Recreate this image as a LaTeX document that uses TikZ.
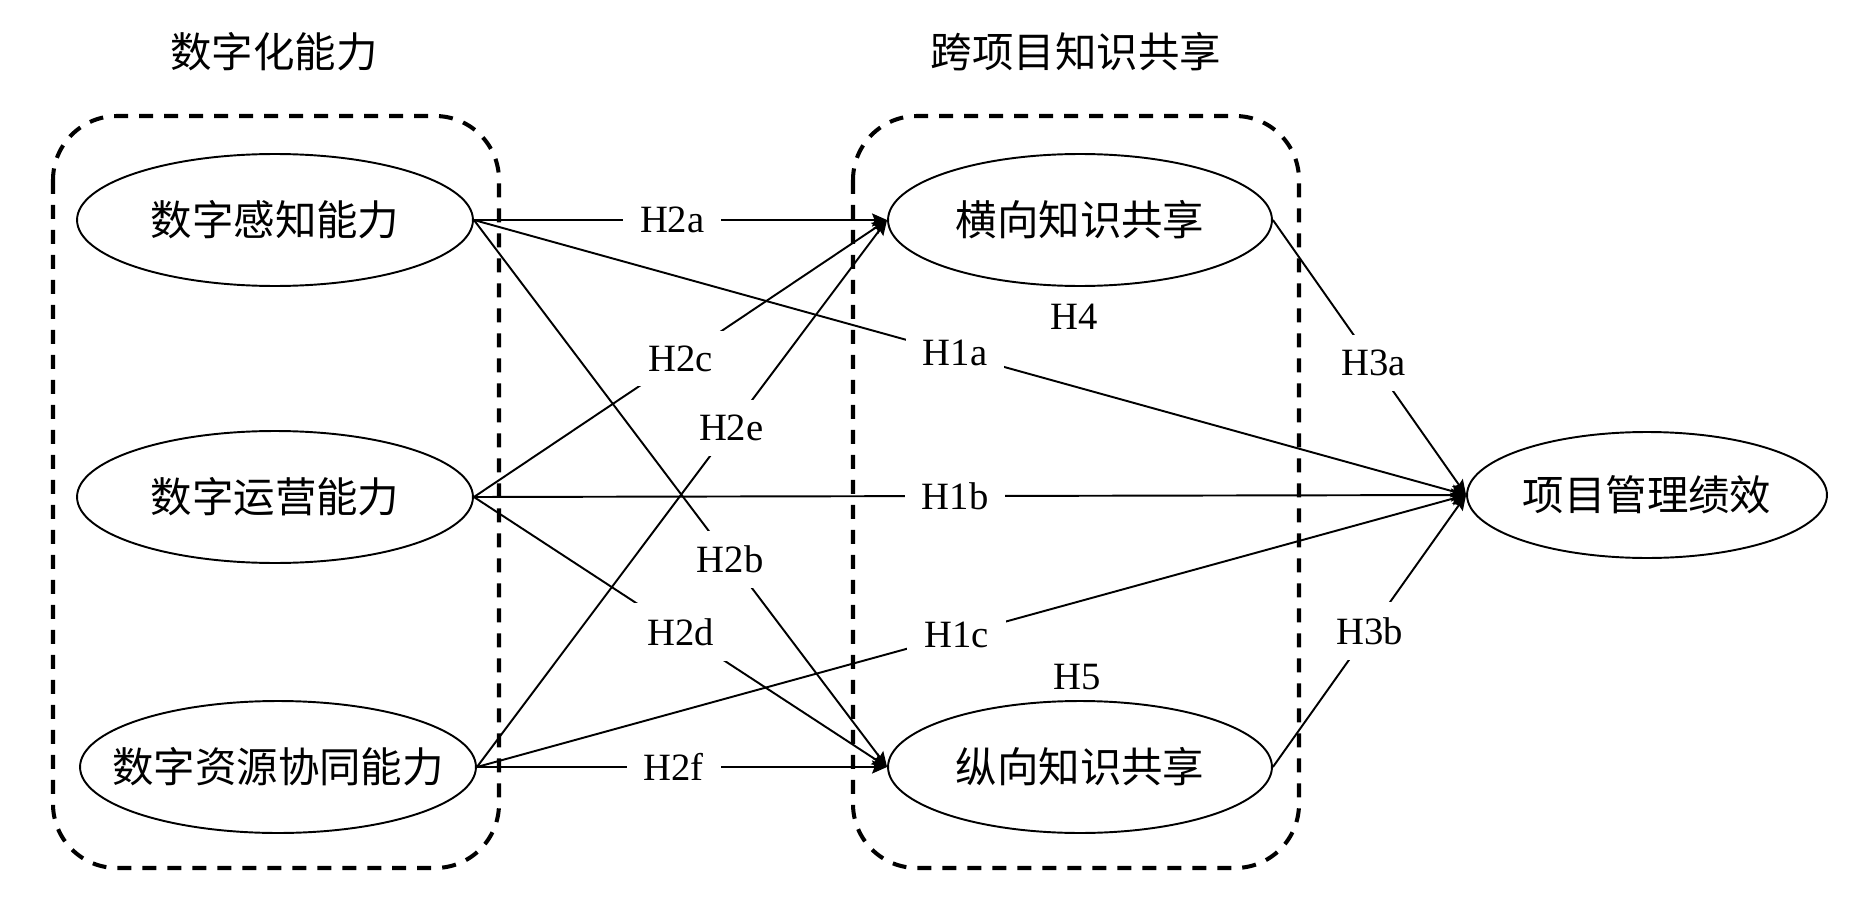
\documentclass[tikz,border=0pt]{standalone}
\usepackage{fontspec}
\setmainfont{Liberation Serif}
\newfontfamily\cjk{Noto Sans CJK SC}
\usetikzlibrary{shapes.geometric,arrows.meta}

\begin{document}
\begin{tikzpicture}[x=0.02cm,y=-0.02cm]

\tikzset{line/.style={draw,line width=1.1pt}}
\tikzset{arrow/.style={line,->,>={Stealth[length=3mm,width=2.6mm,inset=0.5mm]}}}
\tikzset{factor/.style={line,ellipse,inner sep=0pt,minimum width=7.92cm,minimum height=2.64cm,font=\cjk\fontsize{23.6}{28}\selectfont}}
\tikzset{group/.style={draw,line width=2.3pt,dash pattern=on 2.8mm off 2.2mm,rounded corners=1.28cm}}
\tikzset{title/.style={font=\cjk\fontsize{23.6}{28}\selectfont}}
\tikzset{tag/.style={font=\fontsize{22}{26}\selectfont}}
\tikzset{hyp/.style={tag,fill=white,inner xsep=0.34cm,inner ysep=0.3cm}}

\useasboundingbox (0,0) rectangle (1860,909);

\draw[group] (53,116) rectangle (499,868);
\draw[group] (853,116) rectangle (1299,868);

\node[title] (tdig) at (274,52) {数字化能力};
\node[title] (tshare) at (1076,52) {跨项目知识共享};

\node[factor] (dp) at (275,220) {数字感知能力};
\node[factor] (dop) at (275,497) {数字运营能力};
\node[factor,inner xsep=-0.6cm] (dr) at (278,767) {数字资源协同能力};

\node[factor,minimum width=7.68cm] (hk) at (1080,220) {横向知识共享};
\node[factor,minimum width=7.68cm] (vk) at (1080,767) {纵向知识共享};

\node[factor,minimum width=7.2cm,minimum height=2.52cm] (pm) at (1647,495) {项目管理绩效};

\node[tag] (h4) at (1074,317) {H4};
\node[tag] (h5) at (1077,677) {H5};

\path[arrow] (dp.east) to node[hyp,pos=0.48] {H2a} (hk.west);
\path[arrow] (dp.east) to node[hyp,pos=0.62] {H2b} (vk.west);
\path[arrow] (dop.east) to node[hyp,pos=0.5] {H2c} (hk.west);
\path[arrow] (dop.east) to node[hyp,pos=0.5] {H2d} (vk.west);
\path[arrow] (dr.east) to node[hyp,pos=0.62] {H2e} (hk.west);
\path[arrow] (dr.east) to node[hyp,pos=0.48] {H2f} (vk.west);

\path[arrow] (dp.east) to node[hyp,pos=0.485] {H1a} (pm.west);
\path[arrow] (dop.east) to node[hyp,pos=0.485] {H1b} (pm.west);
\path[arrow] (dr.east) to node[hyp,pos=0.485] {H1c} (pm.west);

\path[arrow] (hk.east) to node[hyp,pos=0.52] {H3a} (pm.west);
\path[arrow] (vk.east) to node[hyp,pos=0.5] {H3b} (pm.west);

\end{tikzpicture}
\end{document}
